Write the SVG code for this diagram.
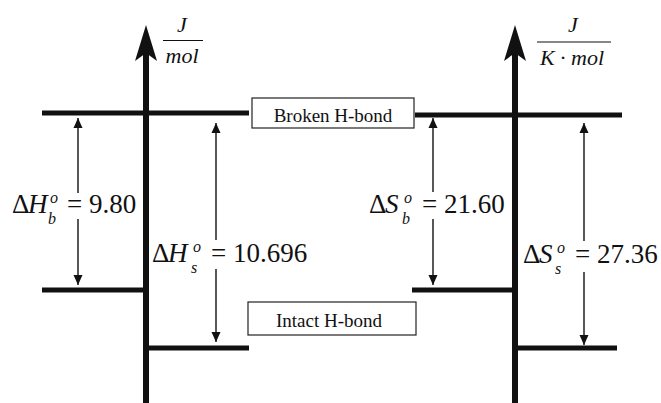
<svg xmlns="http://www.w3.org/2000/svg" width="661" height="403" viewBox="0 0 661 403">
<defs>
<marker id="ah" viewBox="0 0 10 10" refX="10" refY="5" markerWidth="10" markerHeight="10" markerUnits="userSpaceOnUse" orient="auto">
<path d="M0,0.5 L10,5 L0,9.5 Z" fill="#111"/>
</marker>
<style>
.axis{stroke:#111;stroke-width:6;fill:none}
.lvl{stroke:#111;stroke-width:5;fill:none}
.thin{stroke:#111;stroke-width:1.4;fill:none}
.head{fill:#111}
.box{fill:#fff;stroke:#222;stroke-width:1.2}
.lbl{font-family:"Liberation Serif","Times New Roman",serif;font-size:19px;fill:#111}
.eq{font-family:"Liberation Serif","Times New Roman",serif;font-size:27px;fill:#111}
.it{font-style:italic}
.sm{font-family:"Liberation Serif","Times New Roman",serif;font-size:16px;font-style:italic;fill:#111}
.unit{font-family:"Liberation Serif","Times New Roman",serif;font-size:22px;font-style:italic;fill:#111}
</style>
</defs>

<g id="left-axis">
<line class="axis" x1="146" y1="52" x2="146" y2="403"/>
<path class="head" d="M146,25 L157,61 L146,53 L135,61 Z"/>
<text class="unit" x="182" y="32" text-anchor="middle">J</text>
<line x1="163" y1="40.5" x2="203" y2="40.5" stroke="#111" stroke-width="1.2"/>
<text class="unit" x="182" y="63" text-anchor="middle">mol</text>
</g>

<g id="right-axis">
<line class="axis" x1="515" y1="52" x2="515" y2="403"/>
<path class="head" d="M515,25 L526,61 L515,53 L504,61 Z"/>
<text class="unit" x="573" y="32" text-anchor="middle">J</text>
<line x1="537" y1="42" x2="611" y2="42" stroke="#111" stroke-width="1.2"/>
<text class="unit" x="572" y="65" text-anchor="middle">K · mol</text>
</g>

<g id="levels">
<line class="lvl" x1="42" y1="113" x2="249" y2="113"/>
<line class="lvl" x1="42" y1="290" x2="146" y2="290"/>
<line class="lvl" x1="146" y1="348" x2="249" y2="348"/>
<line class="lvl" x1="415" y1="115" x2="622" y2="115"/>
<line class="lvl" x1="412" y1="290" x2="515" y2="290"/>
<line class="lvl" x1="515" y1="348" x2="617" y2="348"/>
</g>

<g id="broken-hbond">
<rect class="box" x="252" y="98" width="162" height="30"/>
<text class="lbl" x="333" y="122" text-anchor="middle">Broken H-bond</text>
</g>

<g id="intact-hbond">
<rect class="box" x="248" y="302" width="168" height="33"/>
<text class="lbl" x="329" y="327" text-anchor="middle">Intact H-bond</text>
</g>

<g id="connectors">
<line class="thin" x1="78" y1="193" x2="78" y2="118" marker-end="url(#ah)"/>
<line class="thin" x1="78" y1="219" x2="78" y2="285" marker-end="url(#ah)"/>
<line class="thin" x1="216" y1="240" x2="216" y2="123" marker-end="url(#ah)"/>
<line class="thin" x1="216" y1="269" x2="216" y2="342" marker-end="url(#ah)"/>
<line class="thin" x1="433" y1="192" x2="433" y2="118" marker-end="url(#ah)"/>
<line class="thin" x1="433" y1="219" x2="433" y2="285" marker-end="url(#ah)"/>
<line class="thin" x1="584" y1="241" x2="584" y2="123" marker-end="url(#ah)"/>
<line class="thin" x1="584" y1="272" x2="584" y2="345" marker-end="url(#ah)"/>
</g>

<g id="dHb">
<text class="eq" x="12" y="213">Δ</text>
<text class="eq it" x="28" y="213">H</text>
<text class="sm" x="50" y="203">o</text>
<text class="sm" x="48" y="224">b</text>
<text class="eq" x="67" y="213">= 9.80</text>
</g>

<g id="dHs">
<text class="eq" x="152" y="262">Δ</text>
<text class="eq it" x="168" y="262">H</text>
<text class="sm" x="193" y="252">o</text>
<text class="sm" x="191" y="273">s</text>
<text class="eq" x="211" y="262">= 10.696</text>
</g>

<g id="dSb">
<text class="eq" x="369" y="213">Δ</text>
<text class="eq it" x="385" y="213">S</text>
<text class="sm" x="404" y="203">o</text>
<text class="sm" x="402" y="224">b</text>
<text class="eq" x="422" y="213">= 21.60</text>
</g>

<g id="dSs">
<text class="eq" x="523" y="263">Δ</text>
<text class="eq it" x="539" y="263">S</text>
<text class="sm" x="557" y="253">o</text>
<text class="sm" x="555" y="274">s</text>
<text class="eq" x="575" y="263">= 27.36</text>
</g>
</svg>
